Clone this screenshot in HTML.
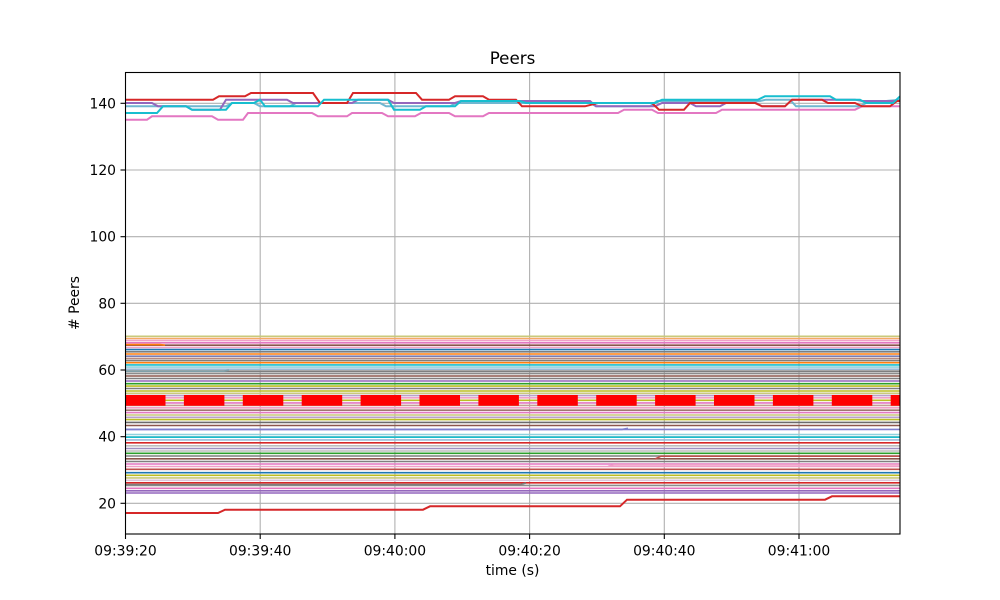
<!DOCTYPE html>
<html>
<head>
<meta charset="utf-8">
<style>
html,body{margin:0;padding:0;background:#fff;}
svg{display:block;}
text{font-family:"DejaVu Sans","Liberation Sans",sans-serif;fill:#000;}
</style>
</head>
<body>
<svg width="1000" height="600" viewBox="0 0 1000 600" xmlns="http://www.w3.org/2000/svg">
<defs>
<clipPath id="pa"><rect x="125.5" y="72.5" width="774.5" height="461.5"/></clipPath>
</defs>
<rect width="1000" height="600" fill="#fff"/>
<!-- grid -->
<g stroke="#b0b0b0" stroke-width="1.1">
<line x1="260.2" y1="72" x2="260.2" y2="534"/>
<line x1="394.9" y1="72" x2="394.9" y2="534"/>
<line x1="529.6" y1="72" x2="529.6" y2="534"/>
<line x1="664.3" y1="72" x2="664.3" y2="534"/>
<line x1="799" y1="72" x2="799" y2="534"/>
<line x1="125" y1="503.3" x2="900" y2="503.3"/>
<line x1="125" y1="436.7" x2="900" y2="436.7"/>
<line x1="125" y1="370" x2="900" y2="370"/>
<line x1="125" y1="303.3" x2="900" y2="303.3"/>
<line x1="125" y1="236.7" x2="900" y2="236.7"/>
<line x1="125" y1="170" x2="900" y2="170"/>
<line x1="125" y1="103.3" x2="900" y2="103.3"/>
</g>
<g clip-path="url(#pa)" fill="none" stroke-width="2">
<!-- dense band -->
<g stroke-width="1.6">
<line x1="125" x2="900" y1="336.3" y2="336.3" stroke="#c9c97a"/>
<line x1="125" x2="900" y1="338.5" y2="338.5" stroke="#f5a866"/>
<line x1="125" x2="900" y1="340.6" y2="340.6" stroke="#f0a0c8"/>
<line x1="125" x2="900" y1="342.8" y2="342.8" stroke="#e377c2"/>
<line x1="125" x2="900" y1="345.2" y2="345.2" stroke="#8c564b"/>
<line x1="125" x2="900" y1="347.4" y2="347.4" stroke="#f0a0c8"/>
<line x1="125" x2="900" y1="349.6" y2="349.6" stroke="#1f77b4"/>
<line x1="125" x2="900" y1="351.8" y2="351.8" stroke="#7f7f7f"/>
<line x1="125" x2="900" y1="354" y2="354" stroke="#ff7f0e"/>
<line x1="125" x2="900" y1="356.2" y2="356.2" stroke="#7b7fb5"/>
<line x1="125" x2="900" y1="358.4" y2="358.4" stroke="#b88a80"/>
<line x1="125" x2="900" y1="360.6" y2="360.6" stroke="#7f7f7f"/>
<line x1="125" x2="900" y1="362.7" y2="362.7" stroke="#ff7f0e"/>
<line x1="125" x2="900" y1="364.9" y2="364.9" stroke="#17becf"/>
<line x1="125" x2="900" y1="367.1" y2="367.1" stroke="#8ed2de"/>
<line x1="125" x2="900" y1="369.2" y2="369.2" stroke="#9bbbd8"/>
<line x1="125" x2="900" y1="371.4" y2="371.4" stroke="#7f7f7f"/>
<line x1="125" x2="900" y1="373.6" y2="373.6" stroke="#8c8c8c"/>
<line x1="125" x2="900" y1="376" y2="376" stroke="#8c564b"/>
<line x1="125" x2="900" y1="378.5" y2="378.5" stroke="#7f7f7f"/>
<line x1="125" x2="900" y1="381" y2="381" stroke="#9467bd"/>
<line x1="125" x2="900" y1="383.7" y2="383.7" stroke="#2ca02c"/>
<line x1="125" x2="900" y1="386.1" y2="386.1" stroke="#bcbd22"/>
<line x1="125" x2="900" y1="388.5" y2="388.5" stroke="#7f7f7f"/>
<line x1="125" x2="900" y1="391" y2="391" stroke="#bcbd22"/>
<line x1="125" x2="900" y1="393.3" y2="393.3" stroke="#c9c97a"/>
<line x1="125" x2="900" y1="395.6" y2="395.6" stroke="#b9a0cc"/>
<line x1="125" x2="900" y1="397.8" y2="397.8" stroke="#f0a0c8"/>
<line x1="125" x2="900" y1="400.3" y2="400.3" stroke="#bcbd22"/>
<line x1="125" x2="900" y1="402.9" y2="402.9" stroke="#e377c2"/>
<line x1="125" x2="900" y1="405.4" y2="405.4" stroke="#c49c94"/>
<line x1="125" x2="900" y1="407.8" y2="407.8" stroke="#f0a0c8"/>
<line x1="125" x2="900" y1="410.2" y2="410.2" stroke="#a0786e"/>
<line x1="125" x2="900" y1="412.6" y2="412.6" stroke="#e377c2"/>
<line x1="125" x2="900" y1="415" y2="415" stroke="#c9c97a"/>
<line x1="125" x2="900" y1="417.3" y2="417.3" stroke="#b9a0cc"/>
<line x1="125" x2="900" y1="419.6" y2="419.6" stroke="#bcbd22"/>
<line x1="125" x2="900" y1="422.4" y2="422.4" stroke="#6b6b6b"/>
<line x1="125" x2="900" y1="425.5" y2="425.5" stroke="#8c564b"/>
<line x1="125" x2="900" y1="429.4" y2="429.4" stroke="#7f7fcf"/>
<line x1="125" x2="900" y1="434.5" y2="434.5" stroke="#8ed2de"/>
<line x1="125" x2="900" y1="437.2" y2="437.2" stroke="#17becf"/>
<line x1="125" x2="900" y1="439.9" y2="439.9" stroke="#9bbbd8"/>
<line x1="125" x2="900" y1="442.8" y2="442.8" stroke="#d62728"/>
<line x1="125" x2="900" y1="445.8" y2="445.8" stroke="#bdbdbd"/>
<line x1="125" x2="900" y1="448.5" y2="448.5" stroke="#a08fc0"/>
<line x1="125" x2="900" y1="451" y2="451" stroke="#bdbdbd"/>
<line x1="125" x2="900" y1="453.3" y2="453.3" stroke="#2ca02c"/>
<line x1="125" x2="900" y1="456" y2="456" stroke="#7f7f7f"/>
<line x1="125" x2="900" y1="458.8" y2="458.8" stroke="#8c564b"/>
<line x1="125" x2="900" y1="461.5" y2="461.5" stroke="#7f7f7f"/>
<line x1="125" x2="900" y1="464" y2="464" stroke="#e377c2"/>
<line x1="125" x2="900" y1="466.5" y2="466.5" stroke="#f0a0c8"/>
<line x1="125" x2="900" y1="469.3" y2="469.3" stroke="#c0504d"/>
<line x1="125" x2="900" y1="472.7" y2="472.7" stroke="#1f77b4"/>
<line x1="125" x2="900" y1="475.3" y2="475.3" stroke="#bcbd22"/>
<line x1="125" x2="900" y1="477.9" y2="477.9" stroke="#c9c97a"/>
<line x1="125" x2="900" y1="480.3" y2="480.3" stroke="#dcc4dc"/>
<line x1="125" x2="900" y1="482.8" y2="482.8" stroke="#d62728"/>
<line x1="125" x2="900" y1="485.4" y2="485.4" stroke="#8c8c8c"/>
<line x1="125" x2="900" y1="488.3" y2="488.3" stroke="#e377c2"/>
<line x1="125" x2="900" y1="490.8" y2="490.8" stroke="#9467bd"/>
<line x1="125" x2="900" y1="493" y2="493" stroke="#9467bd"/>
</g>
<!-- small step features -->
<polyline points="125,344.6 160,344.6 165,345.2" stroke="#ff7f0e" stroke-width="1.6"/>
<polyline points="125,371.2 224,371.2 229,370" stroke="#7f9fa8" stroke-width="1.6"/>
<polyline points="125,429.4 622,429.4 628,428.3" stroke="#7f7fcf" stroke-width="1.6"/>
<polyline points="608,466.3 614,464.8 900,464.8" stroke="#f0a0c8" stroke-width="1.6"/>
<polyline points="655,459 661,456.2 900,456.2" stroke="#c0504d" stroke-width="1.6"/>
<polyline points="125,484.6 520,484.6 526,483" stroke="#7f7f7f" stroke-width="1.6"/>
<!-- red dashed thick -->
<line x1="125" x2="900" y1="400.4" y2="400.4" stroke="#ff0000" stroke-width="10.8" stroke-dasharray="40.5 18.4"/>
<!-- top cluster -->
<polyline stroke="#e377c2" points="125,119.7 147,119.7 152,116.3 212,116.3 218,119.7 243,119.7 248,113 312,113 318,116.3 347,116.3 352,113 382,113 388,116.3 415,116.3 421,113 449,113 455,116.3 483,116.3 489,113 618,113 624,109.7 652,109.7 658,113 716,113 722,109.7 855,109.7 862,106.3 900,106.3"/>
<polyline stroke="#6fb7d1" points="125,106.3 226,106.3 232,103 254,103 260,106.3 290,106.3 296,103 380,103 386,106.3 450,106.3 456,103 590,103 596,106.3 650,106.3 657,101 760,101 766,99.7 790,99.7 796,106.3 860,106.3 866,103 900,99.7"/>
<polyline stroke="#9467bd" points="125,103 152,103 158,106.3 186,106.3 192,109.7 220,109.7 226,99.7 287,99.7 293,103 352,103 358,99.7 388,99.7 394,103 455,103 461,101 590,101 596,106.3 655,106.3 662,103 690,103 696,106.3 720,106.3 726,103 756,103 762,106.3 785,106.3 792,99.7 855,99.7 862,101 900,101"/>
<polyline stroke="#d62728" points="125,99.7 213,99.7 219,96.3 245,96.3 251,93 313,93 320,103 347,103 353,93 416,93 422,99.7 449,99.7 455,96.3 483,96.3 489,99.7 516,99.7 522,106.3 585,106.3 598,103 652,103 659,109.7 684,109.7 690,103 755,103 762,106.3 785,106.3 792,99.7 822,99.7 828,103 855,103 862,106.3 890,106.3 897,101 900,101"/>
<polyline stroke="#17becf" points="125,113 157,113 163,106.3 186,106.3 192,109.7 226,109.7 232,103 254,103 260,99.7 265,106.3 318,106.3 324,99.7 388,99.7 394,109.7 420,109.7 426,106.3 455,106.3 461,101 520,101 526,103 655,103 662,99.7 758,99.7 765,96.3 830,96.3 836,99.7 860,99.7 866,103 893,103 900,96.3"/>
<!-- bottom red -->
<polyline stroke="#d62728" points="125,513 218,513 225,509.7 423,509.7 430,506.3 620,506.3 627,499.7 825,499.7 832,496.3 900,496.3"/>
</g>
<!-- spines -->
<rect x="125.5" y="72.5" width="774.5" height="461.5" fill="none" stroke="#000" stroke-width="1.1"/>
<!-- ticks -->
<g stroke="#000" stroke-width="1.1">
<line x1="125.5" y1="534" x2="125.5" y2="539"/>
<line x1="260.2" y1="534" x2="260.2" y2="539"/>
<line x1="394.9" y1="534" x2="394.9" y2="539"/>
<line x1="529.6" y1="534" x2="529.6" y2="539"/>
<line x1="664.3" y1="534" x2="664.3" y2="539"/>
<line x1="799" y1="534" x2="799" y2="539"/>
<line x1="120.5" y1="503.3" x2="125.5" y2="503.3"/>
<line x1="120.5" y1="436.7" x2="125.5" y2="436.7"/>
<line x1="120.5" y1="370" x2="125.5" y2="370"/>
<line x1="120.5" y1="303.3" x2="125.5" y2="303.3"/>
<line x1="120.5" y1="236.7" x2="125.5" y2="236.7"/>
<line x1="120.5" y1="170" x2="125.5" y2="170"/>
<line x1="120.5" y1="103.3" x2="125.5" y2="103.3"/>
</g>
<g font-size="13.9" text-anchor="end">
<text x="116" y="508.3">20</text>
<text x="116" y="441.7">40</text>
<text x="116" y="375">60</text>
<text x="116" y="308.3">80</text>
<text x="116" y="241.7">100</text>
<text x="116" y="175">120</text>
<text x="116" y="108.3">140</text>
</g>
<g font-size="13.9" text-anchor="middle">
<text x="125.5" y="555.5">09:39:20</text>
<text x="260.2" y="555.5">09:39:40</text>
<text x="394.9" y="555.5">09:40:00</text>
<text x="529.6" y="555.5">09:40:20</text>
<text x="664.3" y="555.5">09:40:40</text>
<text x="799" y="555.5">09:41:00</text>
<text x="512.5" y="575">time (s)</text>
<text x="512.5" y="64" font-size="16.7">Peers</text>
<text transform="translate(79,303) rotate(-90)">&#35; Peers</text>
</g>
</svg>
</body>
</html>
